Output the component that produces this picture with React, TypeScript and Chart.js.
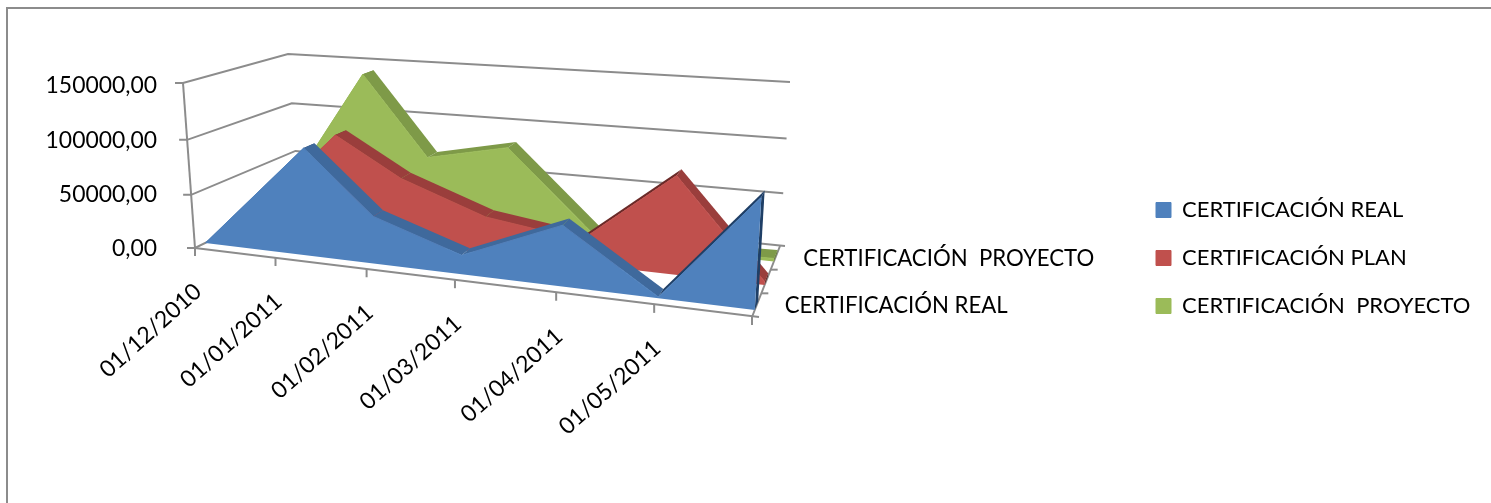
import React, { useEffect, useRef } from "react";
import { Chart, registerables } from "chart.js";

Chart.register(...registerables);

const dateLabels = ["01/12/2010", "01/01/2011", "01/02/2011", "01/03/2011", "01/04/2011", "01/05/2011"];
const axisDays = [0, 31, 62, 90, 121, 151, 182];
const pointDays = [0, 39.5, 62, 90, 121, 151, 182];
const realValues = [0, 98000, 43000, 17000, 53000, 1000, 92000];
const planValues = [0, 97000, 62000, 34000, 22000, 87000, 3000];
const proyectoValues = [0, 142500, 67000, 83000, 3000, 1000, 3000];
const seriesNames = ["CERTIFICACIÓN REAL", "CERTIFICACIÓN PLAN", "CERTIFICACIÓN  PROYECTO"];
const depthLabels = ["CERTIFICACIÓN REAL", "", "CERTIFICACIÓN  PROYECTO"];
const faceColors = ["#4F81BD", "#C0504D", "#9BBB59"];
const topColors = ["#3F699C", "#9A3E3C", "#7E9A48"];
const edgeColors = ["#1F3F66", "#6B2A28", "#6B8238"];

const FONT = "Lato";
const GREY = "#8C8C8C";
// Box of the 3D view: [left/right, bottom/top, front/back] corners.
const BOX = {
  fbl: [195, 248], ftl: [183, 83], fbr: [752, 317], ftr: [763, 127],
  bbl: [299, 197], btl: [288, 54], bbr: [780, 246], btr: [790, 82],
};
const PLANE = [0.1, 0.45, 0.78];
const THICK = 0.12;

const mix = (a: number[], b: number[], t: number) => [a[0] + (b[0] - a[0]) * t, a[1] + (b[1] - a[1]) * t];
function project(u: number, v: number, w: number) {
  const uu = u - 0.22 * u * (1 - u) * (1 - u);
  const vv = v - 0.05 * v * (1 - v);
  const fb = mix(BOX.fbl, BOX.fbr, uu);
  const ft = mix(BOX.ftl, BOX.ftr, uu);
  const bb = mix(BOX.bbl, BOX.bbr, uu);
  const bt = mix(BOX.btl, BOX.btr, uu);
  return mix(mix(fb, ft, vv), mix(bb, bt, vv), w);
}
function poly(ctx: CanvasRenderingContext2D, pts: number[][], fill: string) {
  ctx.beginPath();
  pts.forEach((p, i) => (i ? ctx.lineTo(p[0], p[1]) : ctx.moveTo(p[0], p[1])));
  ctx.closePath();
  ctx.fillStyle = fill;
  ctx.fill();
}
function line(ctx: CanvasRenderingContext2D, pts: number[][]) {
  ctx.beginPath();
  pts.forEach((p, i) => (i ? ctx.lineTo(p[0], p[1]) : ctx.moveTo(p[0], p[1])));
  ctx.stroke();
}
const uOf = (s: any, value: number) => (s.getPixelForValue(value) - s.left) / s.width;
const vOf = (s: any, value: number) => (s.bottom - s.getPixelForValue(value)) / s.height;

const view3d = {
  id: "view3d",
  beforeLayout(chart: any) {
    const lg = chart.legend;
    if (lg && !lg.__tall) {
      const update = lg.update;
      lg.update = (w: number, _h: number, m: any) => update.call(lg, w, 600, m);
      lg.__tall = true;
    }
  },
  afterLayout(chart: any) {
    const lg = chart.legend;
    const pad = lg.options.labels.padding;
    lg.left = 1156 - pad;
    lg.right = lg.left + lg.width;
    lg.top = 199 - pad;
    lg.bottom = lg.top + 200;
  },
  afterDatasetsUpdate(chart: any) {
    const xs = chart.scales.x;
    const ys = chart.scales.y;
    chart.data.datasets.forEach((ds: any, i: number) => {
      const meta = chart.getDatasetMeta(i);
      meta.data.forEach((pt: any, k: number) => {
        const d = ds.data[k];
        const q = project(uOf(xs, d.x), vOf(ys, d.y), PLANE[i]);
        pt.x = q[0];
        pt.y = q[1];
      });
    });
  },
  beforeDatasetsDraw(chart: any) {
    const { ctx } = chart;
    const xs = chart.scales.x;
    const ys = chart.scales.y;
    ctx.save();
    ctx.strokeStyle = GREY;
    ctx.lineWidth = 2;
    ctx.strokeRect(7, 8, 1700, 700);
    // walls
    ys.ticks.forEach((t: any) => {
      const v = vOf(ys, t.value);
      const a = project(0, v, 0);
      const end = project(1, v, 1);
      line(ctx, [[a[0] - 8, a[1]], a, project(0, v, 1), [end[0] + (v === 0 ? 5 : 0), end[1]]]);
    });
    line(ctx, [project(0, 1, 0), project(0, 0, 0)]);
    // floor front edge and date ticks
    const fr = project(1, 0, 0);
    line(ctx, [project(0, 0, 0), [fr[0] + 7, fr[1]]]);
    axisDays.forEach((d) => {
      const p = project(uOf(xs, d), 0, 0);
      line(ctx, [p, [p[0], p[1] + 8]]);
    });
    // floor side edge and series ticks
    line(ctx, [fr, project(1, 0, 1)]);
    [1 / 3, 2 / 3].forEach((w) => {
      const p = project(1, 0, w);
      line(ctx, [p, [p[0] + 7, p[1]]]);
    });
    // labels
    ctx.fillStyle = "#000";
    ctx.font = `23px ${FONT}`;
    dateLabels.forEach((label, i) => {
      const p = project(uOf(xs, axisDays[i]), 0, 0);
      ctx.save();
      ctx.translate(p[0] + 3, p[1] + 40);
      ctx.rotate((-42 * Math.PI) / 180);
      ctx.textAlign = "right";
      ctx.textBaseline = "middle";
      ctx.fillText(label, 0, 0);
      ctx.restore();
    });
    ctx.textAlign = "left";
    ctx.textBaseline = "middle";
    ctx.font = `22.2px ${FONT}`;
    depthLabels.forEach((label, i) => {
      if (!label) return;
      const p = project(1, 0, (i + 0.5) / depthLabels.length);
      ctx.fillText(label, p[0] + 28, p[1] + 1);
    });
    ctx.restore();
  },
  beforeDatasetDraw(chart: any, args: any) {
    const i = args.index;
    const { ctx } = chart;
    const xs = chart.scales.x;
    const ys = chart.scales.y;
    const w = PLANE[i];
    const data = chart.data.datasets[i].data;
    const front = data.map((d: any) => project(uOf(xs, d.x), vOf(ys, d.y), w));
    const back = data.map((d: any) => project(uOf(xs, d.x), vOf(ys, d.y), w + THICK));
    ctx.save();
    for (let k = 0; k < front.length - 1; k++) {
      const dx = front[k + 1][0] - front[k][0];
      const dy = front[k + 1][1] - front[k][1];
      poly(ctx, [front[k], front[k + 1], back[k + 1], back[k]], dy / dx < -0.5 ? edgeColors[i] : topColors[i]);
    }
    const last = front.length - 1;
    poly(ctx, [front[last], back[last], project(1, 0, w + THICK), project(1, 0, w)], edgeColors[i]);
    poly(ctx, [project(0, 0, w), ...front, project(1, 0, w)], faceColors[i]);
    ctx.restore();
  },
};

export default function App() {
  const ref = useRef<HTMLCanvasElement>(null);
  useEffect(() => {
    const toPoints = (values: number[]) => values.map((y, i) => ({ x: pointDays[i], y }));
    const series = [realValues, planValues, proyectoValues];
    const chart = new Chart(ref.current as HTMLCanvasElement, {
      type: "line",
      data: {
        datasets: series.map((values, i) => ({
          label: seriesNames[i],
          data: toPoints(values),
          backgroundColor: faceColors[i],
          borderColor: faceColors[i],
          borderWidth: 1,
          pointRadius: 0,
          fill: false,
          clip: false,
          tension: 0,
        })),
      },
      options: {
        responsive: false,
        animation: false,
        events: [],
        layout: { padding: { top: 86, bottom: 254, left: 0, right: 0 } },
        scales: {
          x: { type: "linear", display: false, min: 0, max: 182 },
          y: {
            min: 0,
            max: 150000,
            border: { display: false },
            grid: { display: false, drawTicks: false },
            afterFit: (s: any) => {
              s.width = 160;
            },
            ticks: {
              stepSize: 50000,
              padding: 3,
              color: "#000",
              font: { family: FONT, size: 22.9 },
              callback: (v: any) => Number(v).toFixed(2).replace(".", ","),
            },
          },
        },
        plugins: {
          tooltip: { enabled: false },
          legend: {
            position: "right",
            align: "start",
            labels: {
              boxWidth: 15,
              boxHeight: 15,
              padding: 26,
              color: "#000",
              font: { family: FONT, size: 22 },
            },
          },
        },
      } as any,
      plugins: [view3d as any],
    });
    return () => chart.destroy();
  }, []);
  return (
    <canvas
      ref={ref}
      width={1491}
      height={503}
      style={{ position: "fixed", left: 0, top: 0, display: "block", background: "#fff" }}
    />
  );
}
